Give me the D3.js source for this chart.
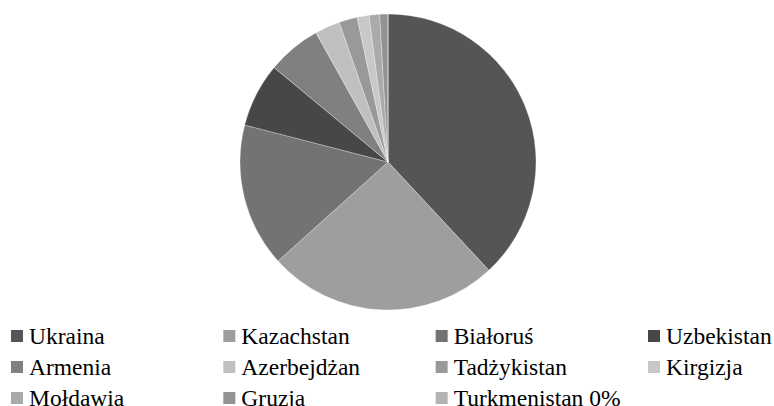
<!DOCTYPE html>
<html>
<head>
<meta charset="utf-8">
<script src="https://cdn.jsdelivr.net/npm/d3@7"></script>
<style>
  body { margin: 0; background: #fff; }
</style>
</head>
<body>
<script>
// share of each country (percent)
var countries = ["Ukraina", "Kazachstan", "Białoruś", "Uzbekistan", "Armenia",
  "Azerbejdżan", "Tadżykistan", "Kirgizja", "Mołdawia", "Gruzja", "Turkmenistan"];
var shares = [38.1, 25.3, 15.7, 7.0, 5.9, 2.75, 2.0, 1.3, 1.15, 0.9, 0];
var legendLabels = ["Ukraina", "Kazachstan", "Białoruś", "Uzbekistan", "Armenia",
  "Azerbejdżan", "Tadżykistan", "Kirgizja", "Mołdawia", "Gruzja", "Turkmenistan 0%"];
var greys = ["#555555", "#9e9e9e", "#737373", "#474747", "#808080",
  "#c0c0c0", "#999999", "#c8c8c8", "#aaaaaa", "#939393", "#b3b3b3"];

function drawPie() {
  var w = 774, h = 406;
  var cx = 388, cy = 162, r = 148;

  var svg = d3.select("body").append("svg")
    .attr("width", w)
    .attr("height", h);

  var color = d3.scaleOrdinal().domain(countries).range(greys);

  var pie = d3.pie()
    .sort(null)
    .value(function(d) { return d.v; });

  var data = countries.map(function(c, i) { return { name: c, v: shares[i] }; });

  var arc = d3.arc().innerRadius(0).outerRadius(r);

  var g = svg.append("g")
    .attr("transform", "translate(" + cx + "," + cy + ")");

  g.selectAll("path")
    .data(pie(data))
    .enter()
    .append("path")
    .attr("d", arc)
    .attr("fill", function(d) { return color(d.data.name); })
    .attr("stroke", "#fff")
    .attr("stroke-width", 0.3);

  // legend, 4 columns x 3 rows
  var colX = d3.scalePoint().domain([0, 1, 2, 3]).range([11, 648]);
  var rowY = d3.scalePoint().domain([0, 1, 2]).range([330, 392]);

  var item = svg.selectAll("g.leg")
    .data(legendLabels)
    .enter()
    .append("g")
    .attr("class", "leg")
    .attr("transform", function(d, i) {
      return "translate(" + colX(i % 4) + "," + rowY(Math.floor(i / 4)) + ")";
    });

  item.append("rect")
    .attr("width", 12)
    .attr("height", 12)
    .attr("fill", function(d, i) { return color(countries[i]); });

  // reference text is a bit wider than plain Times, so stretch it
  item.append("text")
    .attr("transform", "translate(18,13.5) scale(1.045,1)")
    .attr("font-family", "Liberation Serif")
    .attr("font-size", "22.5px")
    .attr("fill", "#000")
    .text(function(d) { return d; });
}

window.onload = function() {
  drawPie();
};
</script>
</body>
</html>
